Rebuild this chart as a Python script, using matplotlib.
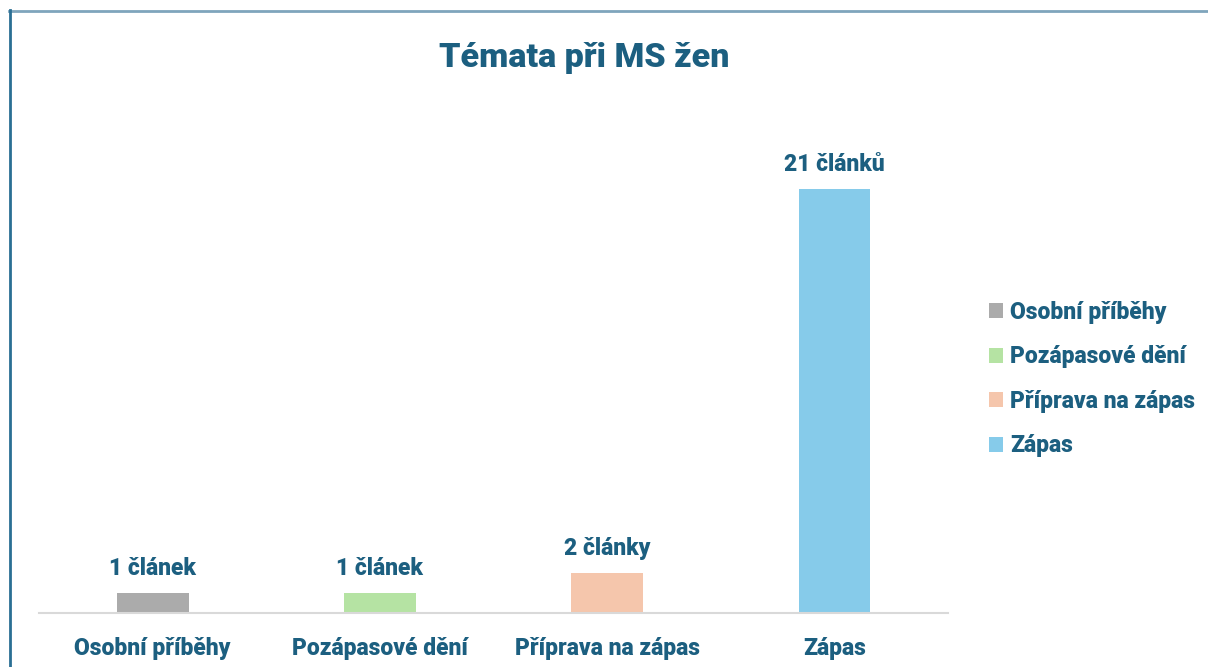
import matplotlib.pyplot as plt
from matplotlib.lines import Line2D
from matplotlib.patches import Patch

categories = ['Osobní příběhy', 'Pozápasové dění', 'Příprava na zápas', 'Zápas']
counts = [1, 1, 2, 21]
value_labels = ['1 článek', '1 článek', '2 články', '21 článků']
colors = ['#ababab', '#b5e3a3', '#f5c6ac', '#86cbea']

text_color = '#1c5f80'
plt.rcParams['font.family'] = ['Roboto', 'DejaVu Sans']
plt.rcParams['font.weight'] = 'bold'

fig = plt.figure(figsize=(12.08, 6.67), dpi=100)
ax = fig.add_axes([0.0323, 0.081, 0.7525, 0.757])

x = range(len(categories))
bars = ax.bar(x, counts, width=0.316, color=colors)
for b, lab in zip(bars, value_labels):
    ax.annotate(lab, (b.get_x() + b.get_width() / 2, b.get_height()),
                xytext=(0, 9), textcoords='offset points', ha='center', va='bottom',
                fontsize=16.5, fontweight='heavy', color=text_color)

ax.set_xlim(-0.5, len(categories) - 0.5)
ax.set_ylim(0, 25)
ax.set_xticks(list(x))
ax.set_xticklabels(categories, fontsize=16.5, fontweight='heavy', color=text_color)
ax.tick_params(axis='x', length=0, pad=17)
ax.set_yticks([])
for s in ['top', 'right', 'left']:
    ax.spines[s].set_visible(False)
ax.spines['bottom'].set_color('#d9d9d9')
ax.spines['bottom'].set_linewidth(1.5)

fig.text(0.484, 0.913, 'Témata při MS žen', ha='center', va='center',
         fontsize=24.5, fontweight='heavy', color=text_color)

handles = [Patch(facecolor=c, label=l) for c, l in zip(colors, categories)]
leg = fig.legend(handles=handles, loc='upper left', bbox_to_anchor=(0.802, 0.580),
                 frameon=False, fontsize=16.5, handlelength=0.6, handleheight=0.6,
                 handletextpad=0.3, labelspacing=0.94)
for t in leg.get_texts():
    t.set_color(text_color)
    t.set_fontweight('heavy')

# frame edges
fig.add_artist(Line2D([9 / 1208, 1], [1 - 10.5 / 667, 1 - 10.5 / 667], transform=fig.transFigure,
                      color='#7fa5bc', lw=2))
fig.add_artist(Line2D([9.5 / 1208, 9.5 / 1208], [0, 1 - 10 / 667], transform=fig.transFigure,
                      color='#2a6f94', lw=2))

fig.savefig('out.png', dpi=100)
